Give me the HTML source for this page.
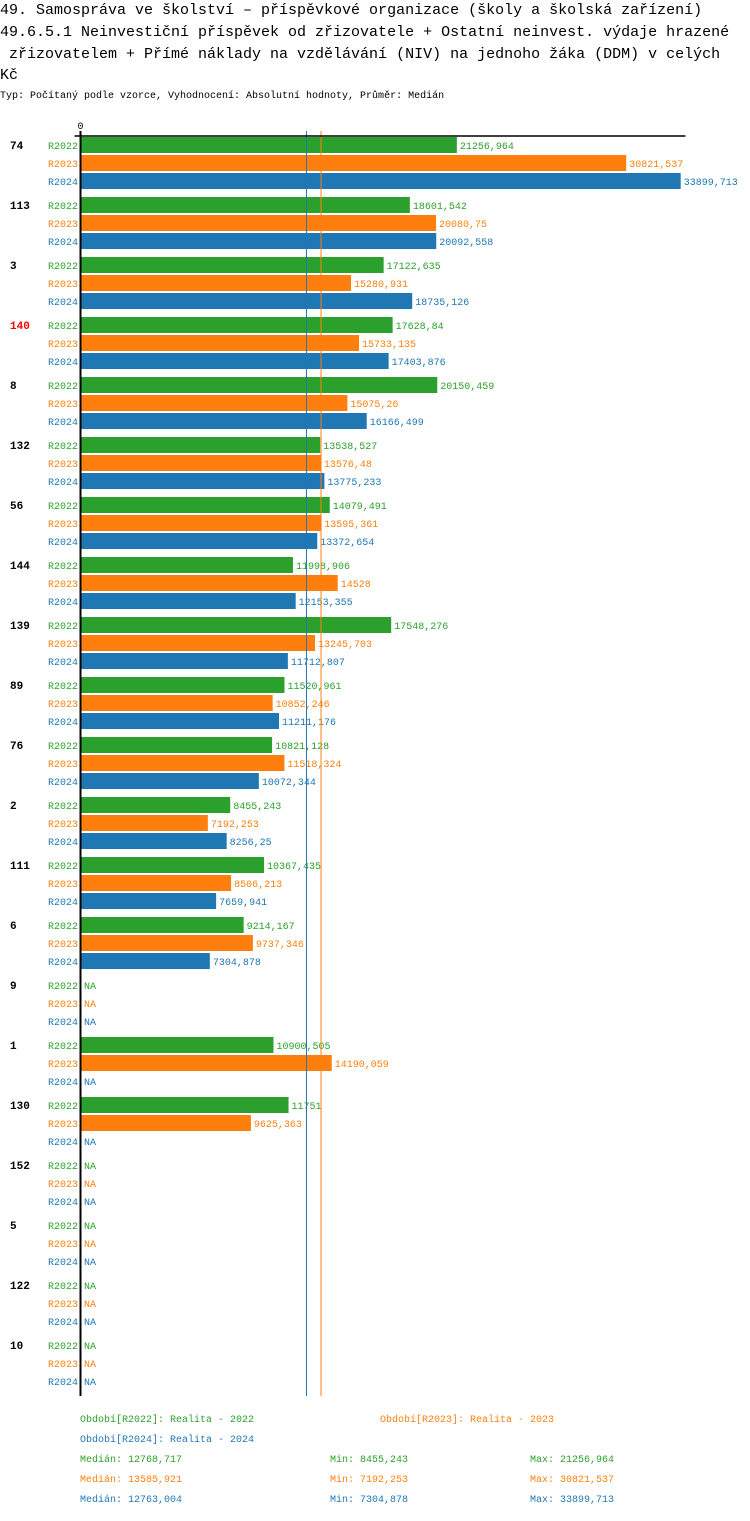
<!DOCTYPE html>
<html><head><meta charset="utf-8"><style>
body{margin:0;background:#fff;}
svg text{font-family:"Liberation Mono","DejaVu Sans Mono",monospace;white-space:pre;}
</style></head><body>
<svg id="chart" width="750" height="1516" xmlns="http://www.w3.org/2000/svg">
<g font-size="15" fill="#000">
<text x="0" y="14">49. Samospráva ve školství – příspěvkové organizace (školy a školská zařízení)</text>
<text x="0" y="36">49.6.5.1 Neinvestiční příspěvek od zřizovatele + Ostatní neinvest. výdaje hrazené</text>
<text x="0" y="58" xml:space="preserve"> zřizovatelem + Přímé náklady na vzdělávání (NIV) na jednoho žáka (DDM) v celých</text>
<text x="0" y="79">Kč</text>
</g>
<text x="0" y="98" font-size="10">Typ: Počítaný podle vzorce, Vyhodnocení: Absolutní hodnoty, Průměr: Medián</text>
<g id="plot"></g>
<g font-size="10">
<text x="80" y="1422" fill="#2ca02c">Období[R2022]: Realita - 2022</text>
<text x="380" y="1422" fill="#ff7f0e">Období[R2023]: Realita - 2023</text>
<text x="80" y="1442" fill="#1f77b4">Období[R2024]: Realita - 2024</text>
<text x="80" y="1462" fill="#2ca02c">Medián: 12768,717</text>
<text x="330" y="1462" fill="#2ca02c">Min: 8455,243</text>
<text x="530" y="1462" fill="#2ca02c">Max: 21256,964</text>
<text x="80" y="1482" fill="#ff7f0e">Medián: 13585,921</text>
<text x="330" y="1482" fill="#ff7f0e">Min: 7192,253</text>
<text x="530" y="1482" fill="#ff7f0e">Max: 30821,537</text>
<text x="80" y="1502" fill="#1f77b4">Medián: 12763,004</text>
<text x="330" y="1502" fill="#1f77b4">Min: 7304,878</text>
<text x="530" y="1502" fill="#1f77b4">Max: 33899,713</text>
</g>
</svg>
<script>
const categories=["74","113","3","140","8","132","56","144","139","89","76","2","111","6","9","1","130","152","5","122","10"];
const highlighted=["140"];
const seriesNames=["R2022","R2023","R2024"];
const seriesColors=["#2ca02c","#ff7f0e","#1f77b4"];
const r2022=[21256.964,18601.542,17122.635,17628.84,20150.459,13538.527,14079.491,11998.906,17548.276,11520.961,10821.128,8455.243,10367.435,9214.167,null,10900.505,11751,null,null,null,null];
const r2023=[30821.537,20080.75,15280.931,15733.135,15075.26,13576.48,13595.361,14528,13245.703,10852.246,11518.324,7192.253,8506.213,9737.346,null,14190.059,9625.363,null,null,null,null];
const r2024=[33899.713,20092.558,18735.126,17403.876,16166.499,13775.233,13372.654,12153.355,11712.807,11211.176,10072.344,8256.25,7659.941,7304.878,null,null,null,null,null,null,null];
const medians=[12763.004,13585.921];
const medianColors=["#1f77b4","#ff7f0e"];
const maxVal=33899.713;

const NS="http://www.w3.org/2000/svg";
const plot=document.getElementById('plot');
const x0=80.5, x1=680.7;
function xs(v){return x0+(x1-x0)*v/maxVal;}
function gy(i){return 137+60*i;}
function mk(tag,attrs,parent){const e=document.createElementNS(NS,tag);for(const k in attrs)e.setAttribute(k,attrs[k]);(parent||plot).appendChild(e);return e;}
function fmt(v){return String(v).replace('.',',');}
const series=[r2022,r2023,r2024];
const n=categories.length;
const plotBottom=gy(n-1)+59;

categories.forEach((c,i)=>{
  const g=mk('g',{});
  
  
  const cl=mk('text',{x:10,y:gy(i)+12,'font-size':11,'font-weight':'bold',fill:highlighted.includes(c)?'#ff0000':'#000'},g);
  cl.textContent=c;
  
  
  series.forEach((s,j)=>{
    const y=gy(i)+18*j;
    const lab=mk('text',{x:78,y:y+12,'font-size':10,'text-anchor':'end',fill:seriesColors[j]},g);
    lab.textContent=seriesNames[j];
    
    
    const v=s[i];
    let tx=84;
    if(v!==null){
      const r=mk('rect',{x:x0,y:y,width:xs(v)-x0,height:16,fill:seriesColors[j]},g);
      
      
      tx=xs(v)+3;
    }
    const vt=mk('text',{x:tx,y:y+12,'font-size':10,fill:seriesColors[j]},g);
    vt.textContent=v===null?'NA':fmt(v);
    
    
  });
});
medians.forEach((m,k)=>{
  const l=mk('line',{x1:xs(m),x2:xs(m),y1:131,y2:plotBottom,stroke:medianColors[k],'stroke-width':1});
  
  
});
const topAxis=mk('line',{x1:x0-6,x2:685.5,y1:136,y2:136,stroke:'#000','stroke-width':1.5});


const yAxis=mk('line',{x1:x0,x2:x0,y1:131,y2:plotBottom,stroke:'#000','stroke-width':2});


const zt=mk('text',{x:x0,y:129,'font-size':10,'text-anchor':'middle',fill:'#000'});
zt.textContent='0';


</script>
</body></html>
